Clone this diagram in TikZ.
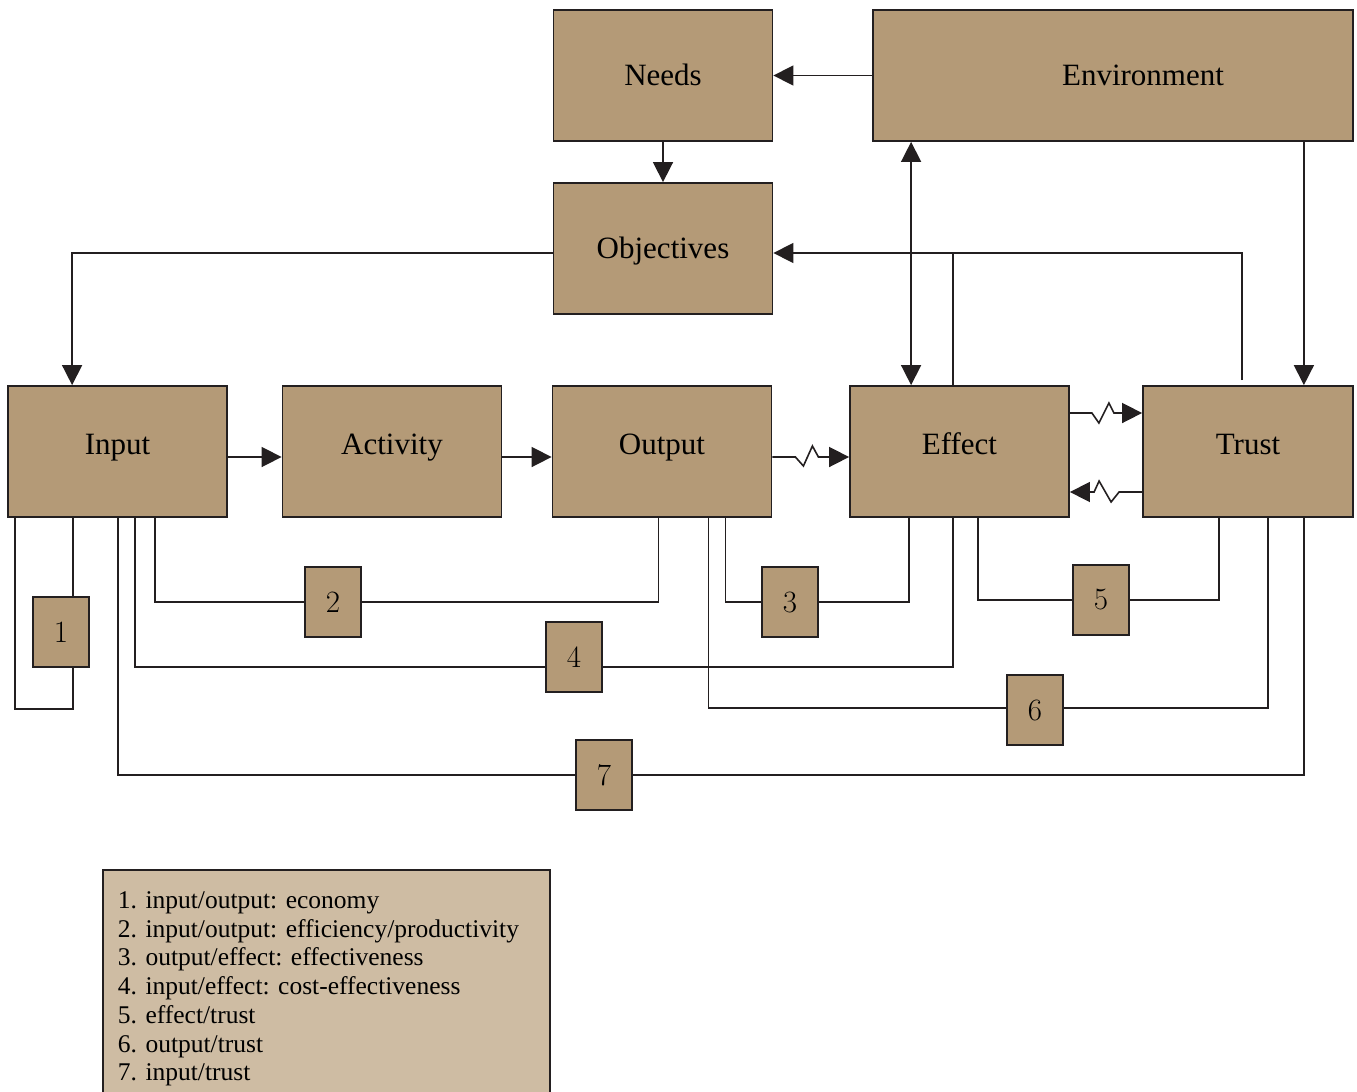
\documentclass[tikz,border=0pt]{standalone}
\usepackage{fontspec}
\usepackage{tikz}
\usetikzlibrary{arrows.meta,positioning,calc}
\newfontfamily\boxfont{Liberation Serif}
\definecolor{boxbrown}{HTML}{B49A77}
\definecolor{keytan}{HTML}{CEBCA3}
\definecolor{ink}{HTML}{231F20}
\frenchspacing

\begin{document}
\begin{tikzpicture}[x = 1pt, y = -1pt,
  box/.style = {draw=ink, fill=boxbrown, line width=1.8pt, inner sep=0pt,
    minimum width=219pt, minimum height=131pt, text height=21pt, text depth=2pt,
    font=\boxfont\fontsize{31}{33}\selectfont},
  rowbox/.style = {box, text depth=16pt},
  numbox/.style = {draw=ink, fill=boxbrown, line width=1.8pt, inner sep=0pt,
    minimum width=56pt, minimum height=70pt,
    font=\fontsize{31}{33}\selectfont},
  link/.style = {draw=ink, line width=1.6pt},
  arr/.style = {link, -{Triangle[length=20pt, width=20pt]}}]
\useasboundingbox (0,0) rectangle (1357,1092);

% top
\node[box] (Needs) at (663, 75.5) {Needs};
\node[box, minimum width=480pt] (Environment) at (1113, 75.5) {\hspace*{60pt}Environment};
\node[box] (Objectives) at (663, 248.5) {Objectives};

% main row
\node[rowbox] (Input) at (117.5, 451.5) {Input};
\node[rowbox] (Activity) at (392, 451.5) {Activity};
\node[rowbox] (Output) at (662, 451.5) {Output};
\node[rowbox] (Effect) at (959.5, 451.5) {Effect};
\node[rowbox, minimum width=210pt] (Trust) at (1248, 451.5) {Trust};

% ratios
\node[numbox] (N1) at (61, 632) {1};
\node[numbox] (N2) at (333, 602) {2};
\node[numbox] (N3) at (790, 602) {3};
\node[numbox] (N4) at (574, 657) {4};
\node[numbox] (N5) at (1101, 600) {5};
\node[numbox] (N6) at (1035, 710) {6};
\node[numbox] (N7) at (604, 775) {7};

\coordinate (objin) at ([yshift=-4.5pt]Objectives.east);
\coordinate (efftop) at ([xshift=104pt]Effect.north west);
\coordinate (n1top) at ([xshift=12pt]N1.north);

\draw[arr] (Environment.west) -- (Needs.east);
\draw[arr] (Needs.south) -- (Objectives.north);
\draw[arr] ([yshift=-4.5pt]Objectives.west) -| ([xshift=65pt]Input.north west);
\draw[arr] ([xshift=100pt, yshift=5pt]Trust.north west) |- (objin);
\draw[link] (efftop) -- (efftop |- objin);
\draw[arr, {Triangle[length=20pt, width=20pt]}-{Triangle[length=20pt, width=20pt]}]
  ([xshift=39pt]Environment.south west) -- ([xshift=62pt]Effect.north west);
\draw[arr] ([xshift=-50pt]Environment.south east) -- ([xshift=-50pt]Trust.north east);

\draw[arr] ([yshift=-5.5pt]Input.east) -- ([yshift=-5.5pt]Activity.west);
\draw[arr] ([yshift=-5.5pt]Activity.east) -- ([yshift=-5.5pt]Output.west);
\draw[arr] ([yshift=-5.5pt]Output.east) -- ++(23,0) -- ++(8,9) -- ++(9,-20) -- ++(6,11)
  -- ([yshift=-5.5pt]Effect.west);
\draw[arr] ([yshift=38.5pt]Effect.east) -- ++(22,0) -- ++(7,10) -- ++(10,-20) -- ++(5,10)
  -- ([yshift=38.5pt]Trust.west);
\draw[arr] ([yshift=-40.5pt]Trust.west) -- ++(-23,0) -- ++(-8,10) -- ++(-12,-21) -- ++(-5,11)
  -- ([yshift=-40.5pt]Effect.east);

% ratio lines
\draw[link] ([xshift=8pt]Input.south west) -- ++(0,191) -| ([xshift=12pt]N1.south);
\draw[link] (n1top) -- (n1top |- Input.south);
\draw[link] ([xshift=148pt]Input.south west) |- (N2.west);
\draw[link] (N2.east) -| ([xshift=107pt]Output.south west);
\draw[link] ([xshift=174pt]Output.south west) |- (N3.west);
\draw[link] (N3.east) -| ([xshift=60pt]Effect.south west);
\draw[link] ([xshift=128pt]Input.south west) |- ([yshift=-10pt]N4.west);
\draw[link] ([yshift=-10pt]N4.east) -| ([xshift=104pt]Effect.south west);
\draw[link] ([xshift=129pt]Effect.south west) |- (N5.west);
\draw[link] (N5.east) -| ([xshift=77pt]Trust.south west);
\draw[link] ([xshift=157pt]Output.south west) |- ([yshift=2pt]N6.west);
\draw[link] ([yshift=2pt]N6.east) -| ([xshift=126pt]Trust.south west);
\draw[link] ([xshift=111pt]Input.south west) |- (N7.west);
\draw[link] (N7.east) -| ([xshift=-50pt]Trust.south east);

% key
\node[draw=ink, fill=keytan, line width=1.8pt, anchor=north west,
  minimum width=447pt, minimum height=238pt, inner xsep=15pt, inner ysep=0pt,
  text width=417pt, align=left,
  font=\boxfont\fontsize{25.5}{28.7}\selectfont] (Key) at (102, 869)
  {1. input/output: economy\\
   2. input/output: efficiency/productivity\\
   3. output/effect: effectiveness\\
   4. input/effect: cost-effectiveness\\
   5. effect/trust\\
   6. output/trust\\
   7. input/trust};
\end{tikzpicture}
\end{document}
